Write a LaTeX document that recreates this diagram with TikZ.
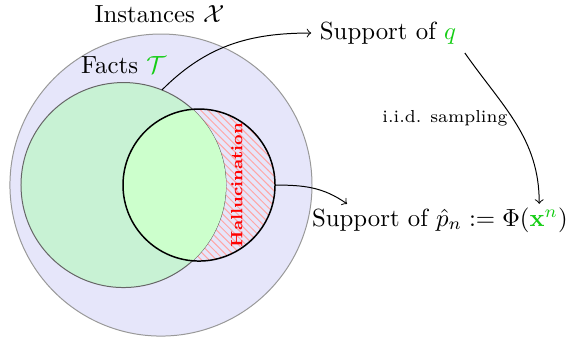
\documentclass[tikz,border=0pt]{standalone}
\usepackage{amsmath,amssymb}
\usetikzlibrary{patterns}
\definecolor{instfill}{RGB}{230,230,250}
\definecolor{factfill}{RGB}{200,242,212}
\definecolor{overfill}{RGB}{204,255,204}
\definecolor{hlgreen}{RGB}{20,205,20}
\begin{document}
\begin{tikzpicture}[>=to]
        \tikzset{set/.style={circle, inner sep=0pt, outer sep=0pt},
                 lbl/.style={font=\normalsize}}
        \useasboundingbox (-2.281,-2.211) rectangle (5.739,2.622);
        % sets as circles
        \node[set, draw=gray!80, fill=instfill, minimum size=4.28cm] (inst) at (0,0) {};
        \fill[pattern=north west lines, pattern color=red!35] (0.539,0) circle (1.077);
        \node[set, draw=black!60, fill=factfill, minimum size=2.905cm] (facts) at (-0.531,0) {};
        \begin{scope}
            \clip (-0.531,0) circle (1.452);
            \fill[overfill] (0.539,0) circle (1.077);
        \end{scope}
        \node[set, draw=black, semithick, minimum size=2.154cm] (supp) at (0.539,0) {};
        % labels
        \node[lbl] (instlbl) at (-0.02,2.42) {Instances $\mathcal{X}$};
        \node[lbl] (factlbl) at (-0.53,1.70) {Facts \textcolor{hlgreen}{$\mathcal{T}$}};
        \node[rotate=90, text=red, font=\fontsize{6.6}{8}\selectfont\bfseries] (hall) at (1.075,0) {Hallucination};
        \node[lbl] (q) at (3.217,2.154) {Support of \textcolor{hlgreen}{$q$}};
        \node[lbl] (pn) at (3.953,-0.496) {Support of $\hat{p}_n := \Phi(\textcolor{hlgreen}{\mathbf{x}^n})$};
        % connectors
        \draw[->] (facts.68) to[out=45,in=180] (q.west);
        \draw[->] (supp.east) to[out=0,in=145] ([xshift=0.62cm,yshift=-2pt]pn.north west);
        \draw[->] (q.south east) to[out=-55,in=90] node[midway, left=0mm, yshift=0.8mm, font=\scriptsize] {i.i.d. sampling} ([xshift=-0.53cm,yshift=-2pt]pn.north east);
    \end{tikzpicture}
\end{document}
